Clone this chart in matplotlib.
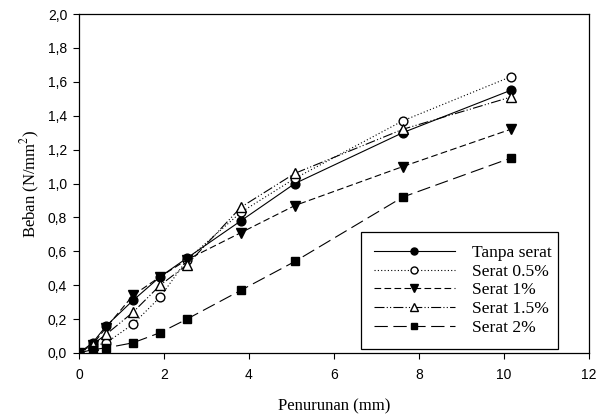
import numpy as np
import matplotlib
matplotlib.use("Agg")
import matplotlib.pyplot as plt
from matplotlib.ticker import FuncFormatter

# penurunan (mm) and beban (N/mm2)
penurunan = [0, 0.32, 0.64, 1.27, 1.91, 2.54, 3.81, 5.08, 7.62, 10.16]
tanpa_serat = [0, 0.06, 0.16, 0.31, 0.45, 0.56, 0.78, 1.00, 1.30, 1.55]
serat_05 = [0, 0.04, 0.06, 0.17, 0.33, 0.55, 0.83, 1.03, 1.37, 1.63]
serat_1 = [0, 0.05, 0.15, 0.34, 0.45, 0.55, 0.71, 0.87, 1.10, 1.32]
serat_15 = [0, 0.05, 0.11, 0.24, 0.40, 0.52, 0.86, 1.06, 1.32, 1.51]
serat_2 = [0, 0.02, 0.03, 0.06, 0.12, 0.20, 0.37, 0.54, 0.92, 1.15]

labels = ["Tanpa serat", "Serat 0.5%", "Serat 1%", "Serat 1.5%", "Serat 2%"]

plt.rcParams['font.family'] = 'Liberation Sans'
plt.rcParams['mathtext.fontset'] = 'stix'

fig = plt.figure(figsize=(6.02, 4.17), dpi=100)
ax = fig.add_axes([0.1312, 0.1535, 0.8472, 0.8129])

lw = 0.8
ms = 6.3
ax.plot(penurunan, tanpa_serat, color='black', lw=lw, ls='-',
        marker='o', ms=ms, mfc='black', label=labels[0])
ax.plot(penurunan, serat_05, color='black', lw=lw, ls=(0, (1, 2)),
        marker='o', ms=ms, mfc='white', label=labels[1])
ax.plot(penurunan, serat_1, color='black', lw=lw, ls=(0, (6, 3)),
        marker='v', ms=ms + 0.5, mfc='black', label=labels[2])
ax.plot(penurunan, serat_15, color='black', lw=lw, ls=(0, (9, 2, 1, 2, 1, 2)),
        marker='^', ms=ms + 0.5, mfc='white', label=labels[3])
ax.plot(penurunan, serat_2, color='black', lw=lw, ls=(0, (12, 5)),
        marker='s', ms=ms - 0.3, mfc='black', label=labels[4])

ax.set_xlim(0, 12)
ax.set_ylim(0, 2.0)
ax.set_xticks(np.arange(0, 13, 2))
ax.set_yticks(np.arange(0, 2.01, 0.2))
ax.yaxis.set_major_formatter(FuncFormatter(lambda v, p: f"{v:.1f}".replace('.', ',')))

ax.tick_params(direction='out', length=4.5, width=0.8, top=False, right=False,
               labelsize=10)
ax.tick_params(axis='x', pad=6)
ax.tick_params(axis='y', pad=4)

for s in ax.spines.values():
    s.set_linewidth(0.9)

ax.set_xlabel("Penurunan (mm)", fontfamily='Liberation Serif', fontsize=12, labelpad=12)
ax.set_ylabel("Beban (N/mm$^2$)", fontfamily='Liberation Serif', fontsize=12, labelpad=4)

leg = ax.legend(loc='lower left', bbox_to_anchor=(0.553, 0.012, 0.386, 0.342),
                mode='expand', prop={'family': 'Liberation Serif', 'size': 12.6},
                handlelength=4.6, numpoints=1, fancybox=False, edgecolor='black',
                framealpha=1, borderaxespad=0, labelspacing=0.14, handletextpad=1.0,
                borderpad=0.75, markerscale=0.8)
leg.get_frame().set_linewidth(0.9)

fig.savefig("out.png", dpi=100)
